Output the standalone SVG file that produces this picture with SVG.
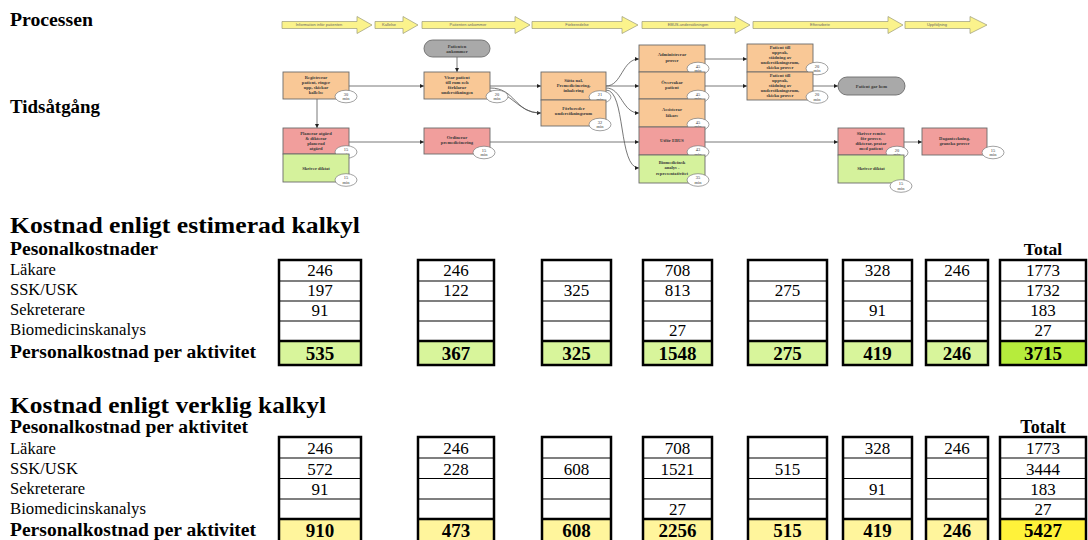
<svg xmlns="http://www.w3.org/2000/svg" width="1088" height="540" viewBox="0 0 1088 540">
<style>
.h{font-family:"Liberation Serif",serif;font-weight:bold;fill:#000}
.lbl{font-family:"Liberation Serif",serif;font-size:16.5px;fill:#000}
.num{font-family:"Liberation Serif",serif;font-size:17px;text-anchor:middle;fill:#000}
.tot{font-family:"Liberation Serif",serif;font-size:19px;font-weight:bold;text-anchor:middle;fill:#000}
.chev{fill:#fbf38c;stroke:#9a9a7a;stroke-width:0.7}
.cl{font-family:"Liberation Sans",sans-serif;font-size:4px;fill:#666;text-anchor:middle}
.box{stroke:#6b6b6b;stroke-width:0.9}
.or{fill:#f9c896}
.rd{fill:#f19e9c}
.gr{fill:#d5f29c}
.pill{fill:#a9a9a9;stroke:#6b6b6b;stroke-width:0.9}
.nt{font-family:"Liberation Serif",serif;font-size:4.6px;font-weight:bold;fill:#3a3a3a;text-anchor:middle}
.bd{fill:#fff;stroke:#7a7a7a;stroke-width:0.7}
.bt{font-family:"Liberation Serif",serif;font-size:4.4px;fill:#333;text-anchor:middle}
.cn{fill:none;stroke:#555;stroke-width:0.8}
.thin{stroke:#000;stroke-width:1.2;fill:none}
.thick{stroke:#000;stroke-width:2.5;fill:none}
.g1{fill:#d8f59b}
.g2{fill:#b6ec3c}
.y1{fill:#fff59c}
.y2{fill:#fff23a}
</style>
<defs>
<marker id="ah" viewBox="0 0 6 6" refX="6" refY="3" markerWidth="5" markerHeight="4" markerUnits="userSpaceOnUse" orient="auto"><path d="M0,0L6,3L0,6z" fill="#222"/></marker>
</defs>

<text class="h" x="10" y="26" font-size="18" textLength="83" lengthAdjust="spacingAndGlyphs">Processen</text>
<text class="h" x="10" y="113" font-size="18" textLength="90" lengthAdjust="spacingAndGlyphs">Tidsåtgång</text>

<g id="phases">
<path class="chev" d="M282,21.5H357V16.5L372,25L357,33.5V28.5H282Z"/>
<text class="cl" x="319" y="26.4">Information inför patienten</text>
<path class="chev" d="M375,21.5H403V16.5L418,25L403,33.5V28.5H375Z"/>
<text class="cl" x="389" y="26.4">Kallelse</text>
<path class="chev" d="M422,21.5H515V16.5L530,25L515,33.5V28.5H422Z"/>
<text class="cl" x="468" y="26.4">Patienten ankommer</text>
<path class="chev" d="M532,21.5H622V16.5L638,25L622,33.5V28.5H532Z"/>
<text class="cl" x="577" y="26.4">Förberedelse</text>
<path class="chev" d="M642,21.5H735V16.5L750,25L735,33.5V28.5H642Z"/>
<text class="cl" x="688" y="26.4">EBUS-undersökningen</text>
<path class="chev" d="M753,21.5H888V16.5L903,25L888,33.5V28.5H753Z"/>
<text class="cl" x="820" y="26.4">Efterarbete</text>
<path class="chev" d="M905,21.5H970V16.5L987,25L970,33.5V28.5H905Z"/>
<text class="cl" x="937" y="26.4">Uppföljning</text>
</g>

<g id="connectors">
<path class="cn" d="M349,86H424" marker-end="url(#ah)"/>
<path class="cn" d="M457,57V72" marker-end="url(#ah)"/>
<path class="cn" d="M317,99V128" marker-end="url(#ah)"/>
<path class="cn" d="M349,142H424" marker-end="url(#ah)"/>
<path class="cn" d="M490,86H541" marker-end="url(#ah)"/>
<path class="cn" d="M490,88C516,88 514,113 541,113" marker-end="url(#ah)"/>
<path class="cn" d="M490,91C512,91 518,113 540,113"/>
<path class="cn" d="M606,86C622,86 622,59 639,59" marker-end="url(#ah)"/>
<path class="cn" d="M606,86H639" marker-end="url(#ah)"/>
<path class="cn" d="M606,88C622,88 622,113 639,113" marker-end="url(#ah)"/>
<path class="cn" d="M606,90C626,90 618,168 639,168" marker-end="url(#ah)"/>
<path class="cn" d="M490,142H639" marker-end="url(#ah)"/>
<path class="cn" d="M705,59H747" marker-end="url(#ah)"/>
<path class="cn" d="M705,86H747" marker-end="url(#ah)"/>
<path class="cn" d="M813,86H838" marker-end="url(#ah)"/>
<path class="cn" d="M705,142H838" marker-end="url(#ah)"/>
<path class="cn" d="M904,142H922" marker-end="url(#ah)"/>
</g>

<g id="n-registrerar">
<rect class="box or" x="283" y="72" width="66" height="27"/>
<text class="nt" x="316"><tspan x="316" y="79">Registrerar</tspan><tspan x="316" y="84">patient, ringer</tspan><tspan x="316" y="89">upp, skickar</tspan><tspan x="316" y="94">kallelse</tspan></text>
<ellipse class="bd" cx="346" cy="96.5" rx="11" ry="6.3"/>
<text class="bt"><tspan x="346" y="95.5">30</tspan><tspan x="346" y="100">min</tspan></text>
</g>

<g id="n-ankommer">
<rect class="pill" x="424" y="40" width="66" height="17" rx="8.5"/>
<text class="nt"><tspan x="457" y="47.5">Patienten</tspan><tspan x="457" y="52.5">ankommer</tspan></text>
</g>

<g id="n-visar">
<rect class="box or" x="424" y="72" width="66" height="27"/>
<text class="nt"><tspan x="457" y="79">Visar patient</tspan><tspan x="457" y="84">till rum och</tspan><tspan x="457" y="89">förklarar</tspan><tspan x="457" y="94">undersökningen</tspan></text>
<ellipse class="bd" cx="497" cy="96.5" rx="11" ry="6.3"/>
<text class="bt"><tspan x="497" y="95.5">20</tspan><tspan x="497" y="100">min</tspan></text>
</g>

<g id="n-planerar">
<rect class="box rd" x="283" y="128" width="66" height="26"/>
<text class="nt"><tspan x="316" y="134.5">Planerar åtgärd</tspan><tspan x="316" y="139.5">&amp; dikterar</tspan><tspan x="316" y="144.5">planerad</tspan><tspan x="316" y="149.5">åtgärd</tspan></text>
<ellipse class="bd" cx="346" cy="152" rx="11" ry="6.3"/>
<text class="bt"><tspan x="346" y="151">15</tspan><tspan x="346" y="155.5">min</tspan></text>
</g>

<g id="n-diktat1">
<rect class="box gr" x="283" y="154" width="66" height="28"/>
<text class="nt" x="316" y="170">Skriver diktat</text>
<ellipse class="bd" cx="346" cy="180" rx="11" ry="6.3"/>
<text class="bt"><tspan x="346" y="179">15</tspan><tspan x="346" y="183.5">min</tspan></text>
</g>

<g id="n-ordinerar">
<rect class="box rd" x="424" y="128" width="66" height="26"/>
<text class="nt"><tspan x="457" y="138.5">Ordinerar</tspan><tspan x="457" y="144">premedicinering</tspan></text>
<ellipse class="bd" cx="484" cy="152.5" rx="11" ry="6.3"/>
<text class="bt"><tspan x="484" y="151.5">15</tspan><tspan x="484" y="156">min</tspan></text>
</g>

<g id="n-satta">
<rect class="box or" x="541" y="72" width="65" height="28"/>
<text class="nt"><tspan x="573.5" y="82">Sätta nål,</tspan><tspan x="573.5" y="87">Premedicinering,</tspan><tspan x="573.5" y="92">inhalering</tspan></text>
<ellipse class="bd" cx="600" cy="97" rx="11" ry="6.3"/>
<text class="bt"><tspan x="600" y="96">21</tspan><tspan x="600" y="100.5">min</tspan></text>
</g>

<g id="n-forbereder">
<rect class="box or" x="541" y="100" width="65" height="26"/>
<text class="nt"><tspan x="573.5" y="109.5">Förbereder</tspan><tspan x="573.5" y="115">undersökningsrum</tspan></text>
<ellipse class="bd" cx="600" cy="124.5" rx="11" ry="6.3"/>
<text class="bt"><tspan x="600" y="123.5">32</tspan><tspan x="600" y="128">min</tspan></text>
</g>

<g id="n-admin">
<rect class="box or" x="639" y="45" width="66" height="27"/>
<text class="nt"><tspan x="672" y="56">Administrerar</tspan><tspan x="672" y="61.5">prover</tspan></text>
<ellipse class="bd" cx="698" cy="68.5" rx="11" ry="6.3"/>
<text class="bt"><tspan x="698" y="67.5">45</tspan><tspan x="698" y="72">min</tspan></text>
</g>

<g id="n-overvakar">
<rect class="box or" x="639" y="72" width="66" height="27"/>
<text class="nt"><tspan x="672" y="83.5">Övervakar</tspan><tspan x="672" y="89">patient</tspan></text>
<ellipse class="bd" cx="698" cy="96.5" rx="11" ry="6.3"/>
<text class="bt"><tspan x="698" y="95.5">45</tspan><tspan x="698" y="100">min</tspan></text>
</g>

<g id="n-assisterar">
<rect class="box or" x="639" y="99" width="66" height="28"/>
<text class="nt"><tspan x="672" y="111">Assisterar</tspan><tspan x="672" y="116.5">läkare</tspan></text>
<ellipse class="bd" cx="698" cy="124.5" rx="11" ry="6.3"/>
<text class="bt"><tspan x="698" y="123.5">45</tspan><tspan x="698" y="128">min</tspan></text>
</g>

<g id="n-ebus">
<rect class="box rd" x="639" y="127" width="66" height="28"/>
<text class="nt" x="672" y="142">Utför EBUS</text>
<ellipse class="bd" cx="698" cy="152" rx="11" ry="6.3"/>
<text class="bt"><tspan x="698" y="151">43</tspan><tspan x="698" y="155.5">min</tspan></text>
</g>

<g id="n-biomed">
<rect class="box gr" x="639" y="155" width="66" height="28"/>
<text class="nt"><tspan x="672" y="163.5">Biomedicinsk</tspan><tspan x="672" y="169">analys -</tspan><tspan x="672" y="174.5">representativitet</tspan></text>
<ellipse class="bd" cx="698" cy="180" rx="11" ry="6.3"/>
<text class="bt"><tspan x="698" y="179">35</tspan><tspan x="698" y="183.5">min</tspan></text>
</g>

<g id="n-uppvak1">
<rect class="box or" x="747" y="44" width="66" height="28"/>
<text class="nt"><tspan x="780" y="48.5">Patient till</tspan><tspan x="780" y="53.5">uppvak,</tspan><tspan x="780" y="58.5">städning av</tspan><tspan x="780" y="63.5">undersökningsrum,</tspan><tspan x="780" y="68.5">skicka prover</tspan></text>
<ellipse class="bd" cx="817" cy="68.5" rx="11" ry="6.3"/>
<text class="bt"><tspan x="817" y="67.5">20</tspan><tspan x="817" y="72">min</tspan></text>
</g>

<g id="n-uppvak2">
<rect class="box or" x="747" y="72" width="66" height="28"/>
<text class="nt"><tspan x="780" y="77">Patient till</tspan><tspan x="780" y="82">uppvak,</tspan><tspan x="780" y="87">städning av</tspan><tspan x="780" y="92">undersökningsrum,</tspan><tspan x="780" y="97">skicka prover</tspan></text>
<ellipse class="bd" cx="817" cy="97" rx="11" ry="6.3"/>
<text class="bt"><tspan x="817" y="96">20</tspan><tspan x="817" y="100.5">min</tspan></text>
</g>

<g id="n-hem">
<rect class="pill" x="838" y="77" width="67" height="18" rx="9"/>
<text class="nt" x="871.5" y="87.5">Patient går hem</text>
</g>

<g id="n-remiss">
<rect class="box rd" x="838" y="128" width="66" height="27"/>
<text class="nt"><tspan x="871" y="134.5">Skriver remiss</tspan><tspan x="871" y="139.5">för prover,</tspan><tspan x="871" y="144.5">dikterar, pratar</tspan><tspan x="871" y="149.5">med patient</tspan></text>
<ellipse class="bd" cx="897" cy="152.5" rx="11" ry="6.3"/>
<text class="bt"><tspan x="897" y="151.5">20</tspan><tspan x="897" y="156">min</tspan></text>
</g>

<g id="n-diktat2">
<rect class="box gr" x="838" y="155" width="66" height="28"/>
<text class="nt" x="871" y="170">Skriver diktat</text>
<ellipse class="bd" cx="901" cy="186" rx="11" ry="6.3"/>
<text class="bt"><tspan x="901" y="185">15</tspan><tspan x="901" y="189.5">min</tspan></text>
</g>

<g id="n-daganteckning">
<rect class="box rd" x="922" y="128" width="65" height="27"/>
<text class="nt"><tspan x="954.5" y="139.5">Daganteckning,</tspan><tspan x="954.5" y="144.5">granska prover</tspan></text>
<ellipse class="bd" cx="993" cy="152.5" rx="11" ry="6.3"/>
<text class="bt"><tspan x="993" y="151.5">15</tspan><tspan x="993" y="156">min</tspan></text>
</g>

<g id="table-estimerad">
<text class="h" x="10" y="233" font-size="24" textLength="350" lengthAdjust="spacingAndGlyphs">Kostnad enligt estimerad kalkyl</text>
<text class="h" x="10" y="255" font-size="18" textLength="148" lengthAdjust="spacingAndGlyphs">Pesonalkostnader</text>
<text class="h" x="1043" y="255" font-size="17.5" text-anchor="middle">Total</text>
<text class="lbl" x="10" y="275">Läkare</text>
<text class="lbl" x="10" y="295">SSK/USK</text>
<text class="lbl" x="10" y="315">Sekreterare</text>
<text class="lbl" x="10" y="335" textLength="136" lengthAdjust="spacingAndGlyphs">Biomedicinskanalys</text>
<text class="h" x="10" y="358" font-size="18" textLength="246" lengthAdjust="spacingAndGlyphs">Personalkostnad per aktivitet</text>
<g fill="#fff">
<rect x="279" y="260" width="82" height="81"/><rect x="418" y="260" width="76" height="81"/><rect x="542" y="260" width="69" height="81"/><rect x="643" y="260" width="69" height="81"/><rect x="748" y="260" width="79" height="81"/><rect x="843" y="260" width="69" height="81"/><rect x="926" y="260" width="62" height="81"/><rect x="1000" y="260" width="86" height="81"/>
</g>
<g class="g1">
<rect x="279" y="341" width="82" height="24"/><rect x="418" y="341" width="76" height="24"/><rect x="542" y="341" width="69" height="24"/><rect x="643" y="341" width="69" height="24"/><rect x="748" y="341" width="79" height="24"/><rect x="843" y="341" width="69" height="24"/><rect x="926" y="341" width="62" height="24"/>
</g>
<rect class="g2" x="1000" y="341" width="86" height="24"/>
<path class="thin" d="M279,281h82M279,301h82M279,321h82 M418,281h76M418,301h76M418,321h76 M542,281h69M542,301h69M542,321h69 M643,281h69M643,301h69M643,321h69 M748,281h79M748,301h79M748,321h79 M843,281h69M843,301h69M843,321h69 M926,281h62M926,301h62M926,321h62 M1000,281h86M1000,301h86M1000,321h86"/>
<path class="thick" d="M279,341h82M418,341h76M542,341h69M643,341h69M748,341h79M843,341h69M926,341h62M1000,341h86"/>
<g class="thick">
<rect x="279" y="260" width="82" height="105"/><rect x="418" y="260" width="76" height="105"/><rect x="542" y="260" width="69" height="105"/><rect x="643" y="260" width="69" height="105"/><rect x="748" y="260" width="79" height="105"/><rect x="843" y="260" width="69" height="105"/><rect x="926" y="260" width="62" height="105"/><rect x="1000" y="260" width="86" height="105"/>
</g>
<g class="num">
<text x="320" y="276">246</text><text x="320" y="296">197</text><text x="320" y="316">91</text>
<text x="456" y="276">246</text><text x="456" y="296">122</text>
<text x="576.5" y="296">325</text>
<text x="677.5" y="276">708</text><text x="677.5" y="296">813</text><text x="677.5" y="336">27</text>
<text x="787.5" y="296">275</text>
<text x="877.5" y="276">328</text><text x="877.5" y="316">91</text>
<text x="957" y="276">246</text>
<text x="1043" y="276">1773</text><text x="1043" y="296">1732</text><text x="1043" y="316">183</text><text x="1043" y="336">27</text>
</g>
<g class="tot">
<text x="320" y="359.5">535</text><text x="456" y="359.5">367</text><text x="576.5" y="359.5">325</text><text x="677.5" y="359.5">1548</text><text x="787.5" y="359.5">275</text><text x="877.5" y="359.5">419</text><text x="957" y="359.5">246</text><text x="1043" y="359.5">3715</text>
</g>
</g>

<g id="table-verklig">
<text class="h" x="10" y="413" font-size="24" textLength="316" lengthAdjust="spacingAndGlyphs">Kostnad enligt verklig kalkyl</text>
<text class="h" x="10" y="433" font-size="18" textLength="238" lengthAdjust="spacingAndGlyphs">Pesonalkostnad per aktivitet</text>
<text class="h" x="1043" y="433" font-size="18" text-anchor="middle">Totalt</text>
<text class="lbl" x="10" y="454">Läkare</text>
<text class="lbl" x="10" y="474">SSK/USK</text>
<text class="lbl" x="10" y="494">Sekreterare</text>
<text class="lbl" x="10" y="514" textLength="136" lengthAdjust="spacingAndGlyphs">Biomedicinskanalys</text>
<text class="h" x="10" y="536" font-size="18" textLength="246" lengthAdjust="spacingAndGlyphs">Personalkostnad per aktivitet</text>
<g fill="#fff">
<rect x="279" y="437" width="82" height="82"/><rect x="418" y="437" width="76" height="82"/><rect x="542" y="437" width="69" height="82"/><rect x="643" y="437" width="69" height="82"/><rect x="748" y="437" width="79" height="82"/><rect x="843" y="437" width="69" height="82"/><rect x="926" y="437" width="62" height="82"/><rect x="1000" y="437" width="86" height="82"/>
</g>
<g class="y1">
<rect x="279" y="519" width="82" height="25"/><rect x="418" y="519" width="76" height="25"/><rect x="542" y="519" width="69" height="25"/><rect x="643" y="519" width="69" height="25"/><rect x="748" y="519" width="79" height="25"/><rect x="843" y="519" width="69" height="25"/><rect x="926" y="519" width="62" height="25"/>
</g>
<rect class="y2" x="1000" y="519" width="86" height="25"/>
<path class="thin" d="M279,458h82M279,478.5h82M279,499h82 M418,458h76M418,478.5h76M418,499h76 M542,458h69M542,478.5h69M542,499h69 M643,458h69M643,478.5h69M643,499h69 M748,458h79M748,478.5h79M748,499h79 M843,458h69M843,478.5h69M843,499h69 M926,458h62M926,478.5h62M926,499h62 M1000,458h86M1000,478.5h86M1000,499h86"/>
<path class="thick" d="M279,519h82M418,519h76M542,519h69M643,519h69M748,519h79M843,519h69M926,519h62M1000,519h86"/>
<g class="thick">
<rect x="279" y="437" width="82" height="108"/><rect x="418" y="437" width="76" height="108"/><rect x="542" y="437" width="69" height="108"/><rect x="643" y="437" width="69" height="108"/><rect x="748" y="437" width="79" height="108"/><rect x="843" y="437" width="69" height="108"/><rect x="926" y="437" width="62" height="108"/><rect x="1000" y="437" width="86" height="108"/>
</g>
<g class="num">
<text x="320" y="454">246</text><text x="320" y="474.5">572</text><text x="320" y="494.5">91</text>
<text x="456" y="454">246</text><text x="456" y="474.5">228</text>
<text x="576.5" y="474.5">608</text>
<text x="677.5" y="454">708</text><text x="677.5" y="474.5">1521</text><text x="677.5" y="514.5">27</text>
<text x="787.5" y="474.5">515</text>
<text x="877.5" y="454">328</text><text x="877.5" y="494.5">91</text>
<text x="957" y="454">246</text>
<text x="1043" y="454">1773</text><text x="1043" y="474.5">3444</text><text x="1043" y="494.5">183</text><text x="1043" y="514.5">27</text>
</g>
<g class="tot">
<text x="320" y="537">910</text><text x="456" y="537">473</text><text x="576.5" y="537">608</text><text x="677.5" y="537">2256</text><text x="787.5" y="537">515</text><text x="877.5" y="537">419</text><text x="957" y="537">246</text><text x="1043" y="537">5427</text>
</g>
</g>
</svg>
